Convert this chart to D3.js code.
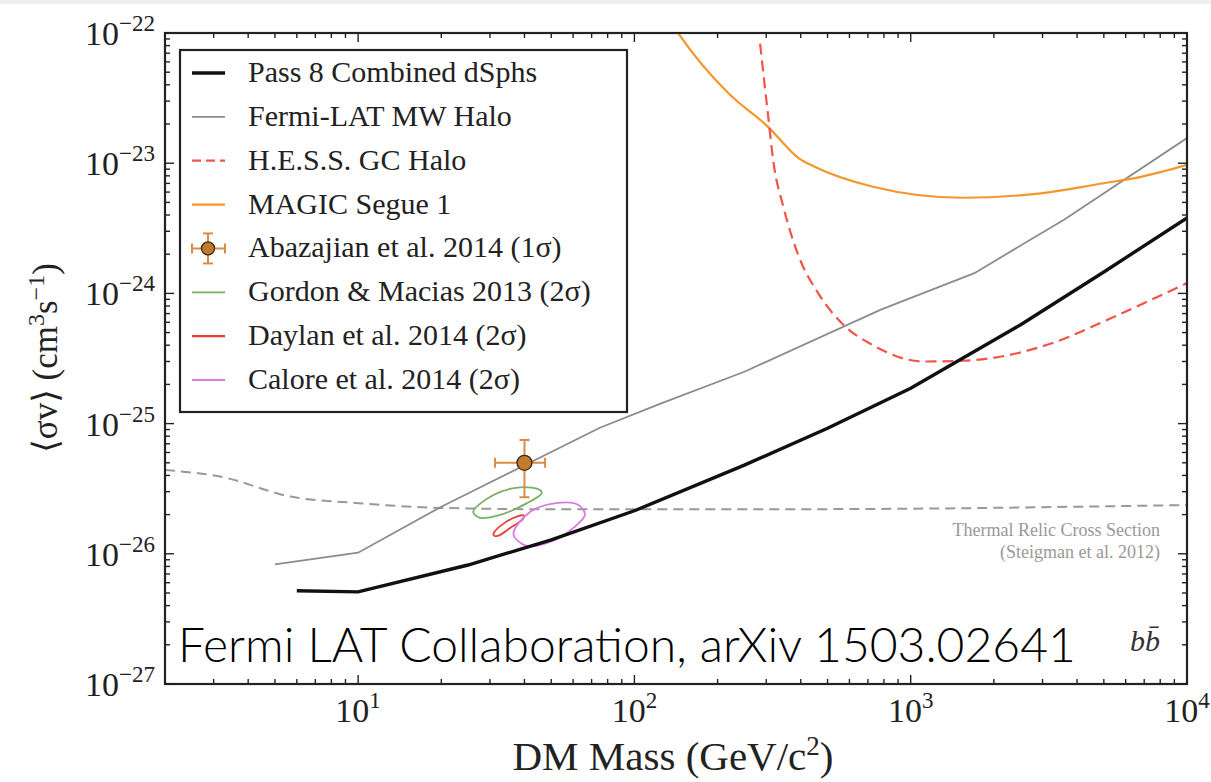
<!DOCTYPE html>
<html>
<head>
<meta charset="utf-8">
<script src="https://cdn.jsdelivr.net/npm/d3@7"></script>
<style>
body{margin:0;background:#fff}
svg{display:block}
</style>
</head>
<body>
<script>
// values: DM mass in GeV, <sigma v> in cm^3 s^-1
var massP8 = [6, 10, 25, 50, 100, 250, 500, 1000, 2500, 5000, 10000];
var sigP8  = [5.2e-27, 5.1e-27, 8.2e-27, 1.28e-26, 2.14e-26, 4.8e-26, 9.2e-26, 1.87e-25, 5.75e-25, 1.46e-24, 3.8e-24];

var massMW = [5, 10, 20, 75, 125, 250, 780, 1700, 3600, 10000];
var sigMW  = [8.3e-27, 1.02e-26, 2.3e-26, 9.3e-26, 1.43e-25, 2.5e-25, 7.5e-25, 1.43e-24, 3.7e-24, 1.56e-23];

var massHESS = [285, 304, 319, 346, 394, 463, 563, 730, 1114, 1542, 2430, 3365, 5130, 10000];
var sigHESS  = [8.3e-23, 2.42e-23, 1.0e-23, 4.63e-24, 1.91e-24, 1.0e-24, 5.9e-25, 4.0e-25, 3.0e-25, 3.04e-25, 3.47e-25, 4.26e-25, 6.25e-25, 1.2e-24];

var massMAGIC = [130, 146, 219, 304, 394, 449, 730, 1542, 2953, 4800, 6870, 10000];
var sigMAGIC  = [1.4e-22, 9.6e-23, 3.44e-23, 1.91e-23, 1.09e-23, 9.4e-24, 6.6e-24, 5.43e-24, 5.87e-24, 6.92e-24, 7.88e-24, 9.7e-24];

var massRelic = [2, 3.2, 5.7, 10, 20, 50, 100, 300, 1000, 3000, 10000];
var sigRelic  = [4.4e-26, 3.9e-26, 2.75e-26, 2.45e-26, 2.25e-26, 2.2e-26, 2.2e-26, 2.2e-26, 2.22e-26, 2.28e-26, 2.37e-26];

// Abazajian et al. 2014 point with 1 sigma range
var abazMass = 40, abazMassLo = 31.3, abazMassHi = 47.5;
var abazSig = 5.0e-26, abazSigLo = 2.72e-26, abazSigHi = 7.48e-26;

// 2 sigma contours, [mass, sigma v]
var gordonContour = [[26.1,2.10e-26],[30.9,2.83e-26],[38.5,3.24e-26],[45.5,3.09e-26],[46.2,2.92e-26],[40.7,2.44e-26],[32.6,1.99e-26],[27.6,1.89e-26]];
var daylanContour = [[31.0,1.45e-26],[33.8,1.72e-26],[37.5,1.93e-26],[39.8,1.97e-26],[39.5,1.85e-26],[35.5,1.58e-26],[32.2,1.38e-26],[31.0,1.38e-26]];
var caloreContour = [[36.5,1.42e-26],[40.7,1.15e-26],[50.9,1.26e-26],[60.1,1.58e-26],[66.2,2.0e-26],[62.5,2.38e-26],[52,2.45e-26],[42,2.1e-26]];

var legendLabels = ['Pass 8 Combined dSphs','Fermi-LAT MW Halo','H.E.S.S. GC Halo','MAGIC Segue 1',
  'Abazajian et al. 2014 (1\u03c3)','Gordon & Macias 2013 (2\u03c3)','Daylan et al. 2014 (2\u03c3)','Calore et al. 2014 (2\u03c3)'];

var serif = '"Liberation Serif", "DejaVu Serif", serif';
var colBlack = '#111', colGray = '#8c8c8c', colHESS = '#f2534a', colMAGIC = '#f4962e',
    colAbaz = '#d98c46', colAbazFill = '#c27a2e', colGreen = '#78b065', colRed = '#ea3f36', colMagenta = '#da7ae6';

var width = 1211, height = 782;
var svg = d3.select('body').append('svg').attr('width', width).attr('height', height)
  .attr('font-family', serif);
svg.append('rect').attr('x',0).attr('y',0).attr('width',width).attr('height',4).attr('fill','#eceef2');

var x = d3.scaleLog().domain([2, 1e4]).range([165, 1187]);
var y = d3.scaleLog().domain([1e-27, 1e-22]).range([684, 33]);
var x0 = x.range()[0], x1 = x.range()[1], y0 = y.range()[0], y1 = y.range()[1];

svg.append('clipPath').attr('id','plot').append('rect')
  .attr('x',x0).attr('y',y1).attr('width',x1-x0).attr('height',y0-y1);

var line = d3.line().x(function(d){return x(d[0]);}).y(function(d){return y(d[1]);});
var g = svg.append('g').attr('clip-path','url(#plot)');

// thermal relic
g.append('path').attr('d', line.curve(d3.curveMonotoneX)(d3.zip(massRelic, sigRelic)))
  .attr('fill','none').attr('stroke','#999').attr('stroke-width',2).attr('stroke-dasharray','10,6');
// MW halo
g.append('path').attr('d', line.curve(d3.curveLinear)(d3.zip(massMW, sigMW)))
  .attr('fill','none').attr('stroke',colGray).attr('stroke-width',1.8);
// MAGIC
g.append('path').attr('d', line.curve(d3.curveMonotoneX)(d3.zip(massMAGIC, sigMAGIC)))
  .attr('fill','none').attr('stroke',colMAGIC).attr('stroke-width',2.2);
// HESS
g.append('path').attr('d', line.curve(d3.curveMonotoneX)(d3.zip(massHESS, sigHESS)))
  .attr('fill','none').attr('stroke',colHESS).attr('stroke-width',2.2).attr('stroke-dasharray','11,6');
// contours
var contourLine = d3.line().x(function(d){return x(d[0]);}).y(function(d){return y(d[1]);}).curve(d3.curveCatmullRomClosed);
g.append('path').attr('d', contourLine(gordonContour)).attr('fill','none').attr('stroke',colGreen).attr('stroke-width',1.8);
g.append('path').attr('d', contourLine(daylanContour)).attr('fill','none').attr('stroke',colRed).attr('stroke-width',1.8);
g.append('path').attr('d', contourLine(caloreContour)).attr('fill','none').attr('stroke',colMagenta).attr('stroke-width',1.8);
// Pass 8
g.append('path').attr('d', line.curve(d3.curveLinear)(d3.zip(massP8, sigP8)))
  .attr('fill','none').attr('stroke',colBlack).attr('stroke-width',3.4);

// Abazajian point
function errPoint(sel, cx, cy, xl, xr, yt, yb, r){
  var e = sel.append('g').attr('stroke',colAbaz).attr('stroke-width',2).attr('fill','none');
  e.append('line').attr('x1',xl).attr('x2',xr).attr('y1',cy).attr('y2',cy);
  e.append('line').attr('x1',cx).attr('x2',cx).attr('y1',yt).attr('y2',yb);
  e.append('line').attr('x1',xl).attr('x2',xl).attr('y1',cy-5).attr('y2',cy+5);
  e.append('line').attr('x1',xr).attr('x2',xr).attr('y1',cy-5).attr('y2',cy+5);
  e.append('line').attr('x1',cx-5).attr('x2',cx+5).attr('y1',yt).attr('y2',yt);
  e.append('line').attr('x1',cx-5).attr('x2',cx+5).attr('y1',yb).attr('y2',yb);
  sel.append('circle').attr('cx',cx).attr('cy',cy).attr('r',r).attr('fill',colAbazFill).attr('stroke','#3a2a1a').attr('stroke-width',1.3);
}
errPoint(svg, x(abazMass), y(abazSig), x(abazMassLo), x(abazMassHi), y(abazSigHi), y(abazSigLo), 7.5);

// frame and ticks
svg.append('rect').attr('x',x0).attr('y',y1).attr('width',x1-x0).attr('height',y0-y1)
  .attr('fill','none').attr('stroke','#222').attr('stroke-width',2.2);
function isMajor(v){ var l = Math.log10(v); return Math.abs(l - Math.round(l)) < 1e-6; }
var ticks = svg.append('g').attr('stroke','#222').attr('stroke-width',1.4);
x.ticks().forEach(function(v){
  var L = isMajor(v) ? 9 : 5, px = x(v);
  ticks.append('line').attr('x1',px).attr('x2',px).attr('y1',y0).attr('y2',y0-L);
  ticks.append('line').attr('x1',px).attr('x2',px).attr('y1',y1).attr('y2',y1+L);
});
y.ticks().forEach(function(v){
  var L = isMajor(v) ? 9 : 5, py = y(v);
  ticks.append('line').attr('x1',x0).attr('x2',x0+L).attr('y1',py).attr('y2',py);
  ticks.append('line').attr('x1',x1).attr('x2',x1-L).attr('y1',py).attr('y2',py);
});

function expLabel(t, e){
  t.append('tspan').text('10');
  t.append('tspan').attr('dy',-14).attr('font-size',23).text(e < 0 ? '\u2212' + (-e) : String(e));
}
x.ticks().filter(isMajor).forEach(function(v){
  var t = svg.append('text').attr('x',x(v)).attr('y',722).attr('text-anchor','middle')
    .attr('font-size',34).attr('fill','#222');
  expLabel(t, Math.round(Math.log10(v)));
});
y.ticks().filter(isMajor).forEach(function(v){
  var t = svg.append('text').attr('x',155).attr('y',y(v)+12).attr('text-anchor','end')
    .attr('font-size',34).attr('fill','#222');
  expLabel(t, Math.round(Math.log10(v)));
});

// axis titles
var xt = svg.append('text').attr('x',(x0+x1)/2 - 3).attr('y',770).attr('text-anchor','middle')
  .attr('font-size',41).attr('fill','#222');
xt.append('tspan').text('DM Mass (GeV/c');
xt.append('tspan').attr('dy',-15).attr('font-size',27).text('2');
xt.append('tspan').attr('dy',15).text(')');

var yt = svg.append('text').attr('transform','translate(57,358) rotate(-90)').attr('text-anchor','middle')
  .attr('font-size',35).attr('fill','#222');
yt.append('tspan').text('\u27e8\u03c3v\u27e9 (cm');
yt.append('tspan').attr('dy',-13).attr('font-size',24).text('3');
yt.append('tspan').attr('dy',13).text('s');
yt.append('tspan').attr('dy',-13).attr('font-size',24).text('\u22121');
yt.append('tspan').attr('dy',13).text(')');

// thermal relic label
svg.append('text').attr('x',1160).attr('y',536).attr('text-anchor','end').attr('font-size',18).attr('fill','#999')
  .text('Thermal Relic Cross Section');
svg.append('text').attr('x',1160).attr('y',558).attr('text-anchor','end').attr('font-size',18).attr('fill','#999')
  .text('(Steigman et al. 2012)');

// channel label
svg.append('text').attr('x',1160).attr('y',651).attr('text-anchor','end').attr('font-size',30)
  .attr('font-style','italic').attr('fill','#333').text('bb\u0304');

// collaboration note
svg.append('text').attr('x',178).attr('y',662).attr('font-size',48)
  .attr('font-family','Lato, "Open Sans", sans-serif').attr('font-weight',300).attr('fill','#000')
  .text('Fermi LAT Collaboration, arXiv 1503.02641');

// legend
var leg = svg.append('g');
leg.append('rect').attr('x',180).attr('y',50).attr('width',447).attr('height',362)
  .attr('fill','#fff').attr('stroke','#222').attr('stroke-width',2.2);
var rowY = d3.scaleLinear().domain([0, legendLabels.length - 1]).range([73, 380]);
var styles = [
  {c:colBlack, w:3.4}, {c:colGray, w:1.8}, {c:colHESS, w:2.2, d:'9,5'}, {c:colMAGIC, w:2.2},
  null, {c:colGreen, w:1.8}, {c:colRed, w:2.2}, {c:colMagenta, w:2.2}
];
legendLabels.forEach(function(lab, i){
  var ry = rowY(i);
  if (styles[i]) {
    var s = styles[i];
    leg.append('line').attr('x1',192).attr('x2',225).attr('y1',ry).attr('y2',ry)
      .attr('stroke',s.c).attr('stroke-width',s.w).attr('stroke-dasharray',s.d || null);
  } else {
    errPoint(leg, 208, ry, 192, 225, ry-15, ry+15, 6.5);
  }
  leg.append('text').attr('x',248).attr('y',ry+9).attr('font-size',30).attr('fill','#222').text(lab);
});
</script>
</body>
</html>
